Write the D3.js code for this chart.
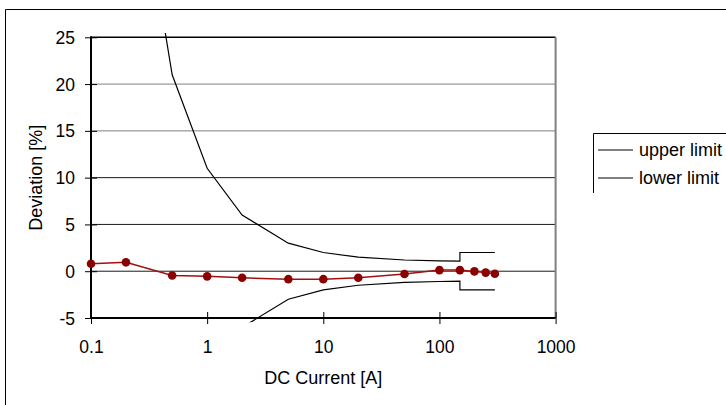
<!DOCTYPE html>
<html><head><meta charset="utf-8">
<script src="https://cdn.jsdelivr.net/npm/d3@7"></script>
<style>
html,body{margin:0;padding:0;background:#fff;}
svg{display:block;}
text{font-family:"Liberation Sans",Arial,sans-serif;fill:#000;}
</style></head>
<body>
<svg id="chart" width="726" height="405"></svg>
<script>
// ---- data ----
const currents = [0.1, 0.2, 0.5, 1, 2, 5, 10, 20, 50, 100, 150, 200, 250, 300];
const measured = [0.8, 0.95, -0.45, -0.55, -0.7, -0.85, -0.85, -0.7, -0.3, 0.12, 0.12, -0.02, -0.15, -0.27];
const limitCurrents = [0.1, 0.2, 0.5, 1, 2, 5, 10, 20, 50, 100, 150, 150, 300];
const upperLimit = [101, 51, 21, 11, 6, 3, 2, 1.5, 1.2, 1.1, 1.07, 2, 2];
const lowerLimit = [-101, -51, -21, -11, -6, -3, -2, -1.5, -1.2, -1.1, -1.07, -2, -2];
const xTicks = [0.1, 1, 10, 100, 1000];
const xTickLabels = ["0.1", "1", "10", "100", "1000"];
const yTicks = [-5, 0, 5, 10, 15, 20, 25];
const yTickLabels = ["-5", "0", "5", "10", "15", "20", "25"];
const legendLabels = ["upper limit", "lower limit"];
const xTitle = "DC Current [A]";
const yTitle = "Deviation [%]";

// ---- layout ----
const svg = d3.select("#chart");
const L = 91, R = 555.6, T = 37.3, B = 318;
const x = d3.scaleLog().domain([0.1, 1000]).range([L, R]);
const y = d3.scaleLinear().domain([-5, 25]).range([B, T]);
const red = "#8b0000";

// outer frame
svg.append("path").attr("d", "M5.5,410V9.5H730").attr("fill", "none").attr("stroke", "#000").attr("stroke-width", 1);

// gridlines
const gridVals = yTicks.filter(v => v > -5 && v < 25);
svg.append("g").selectAll("line").data(gridVals).join("line")
  .attr("x1", L).attr("x2", R)
  .attr("y1", d => y(d)).attr("y2", d => y(d))
  .attr("stroke", d => d >= 15 ? "#808080" : "#1a1a1a").attr("stroke-width", 1);

// plot border top (black) and right (gray)
svg.append("line").attr("x1", L).attr("x2", R).attr("y1", T).attr("y2", T).attr("stroke", "#000").attr("stroke-width", 1.5);
svg.append("line").attr("x1", R).attr("x2", R).attr("y1", T).attr("y2", B).attr("stroke", "#808080").attr("stroke-width", 2);

// clip for limit lines (slightly beyond plot area)
svg.append("defs").append("clipPath").attr("id", "clip")
  .append("rect").attr("x", L).attr("y", T - 4.3).attr("width", R - L).attr("height", B - T + 8.6);

const lim = d3.line().x((d, i) => x(limitCurrents[i])).y(d => y(d));
const gl = svg.append("g").attr("clip-path", "url(#clip)");
[upperLimit, lowerLimit].forEach(arr => {
  gl.append("path").attr("d", lim(arr)).attr("fill", "none").attr("stroke", "#000").attr("stroke-width", 1.2);
});

// axes
const xAxis = svg.append("g").attr("transform", `translate(0,${B})`)
  .call(d3.axisBottom(x).tickValues(xTicks).tickFormat((d, i) => xTickLabels[i]).tickSizeOuter(0));
xAxis.select(".domain").attr("stroke", "#000").attr("stroke-width", 2).attr("d", `M${L},0H${R}`);
xAxis.selectAll(".tick line").attr("y1", -6).attr("y2", 6).attr("stroke", "#000");
xAxis.selectAll(".tick text").attr("y", 35).attr("dy", 0).style("font-size", "17.5px").style("font-family", "Liberation Sans, Arial, sans-serif");

const yAxis = svg.append("g").attr("transform", `translate(${L},0)`)
  .call(d3.axisLeft(y).tickValues(yTicks).tickFormat((d, i) => yTickLabels[i]).tickSizeOuter(0));
yAxis.select(".domain").attr("stroke", "#000").attr("stroke-width", 2).attr("d", `M0,${T - 1}V${B + 1}`);
yAxis.selectAll(".tick line").attr("x1", -6).attr("x2", 6).attr("stroke", "#000");
yAxis.selectAll(".tick text").attr("x", -16).attr("dy", "0.35em").style("font-size", "17.5px").style("font-family", "Liberation Sans, Arial, sans-serif");

// measured series
const ml = d3.line().x((d, i) => x(currents[i])).y(d => y(d));
svg.append("path").attr("d", ml(measured)).attr("fill", "none").attr("stroke", "#a01010").attr("stroke-width", 1.5);
svg.append("g").selectAll("circle").data(measured).join("circle")
  .attr("cx", (d, i) => x(currents[i])).attr("cy", d => y(d)).attr("r", 4.3).attr("fill", red);

// axis titles
svg.append("text").attr("x", (L + R) / 2).attr("y", 384).attr("text-anchor", "middle").style("font-size", "18px").text(xTitle);
svg.append("text").attr("transform", `translate(41.5,${(T + B) / 2}) rotate(-90)`).attr("text-anchor", "middle").style("font-size", "18px").text(yTitle);

// legend
svg.append("path").attr("d", "M593.5,193V133.5H730").attr("fill", "none").attr("stroke", "#000").attr("stroke-width", 1);
const lg = svg.append("g").selectAll("g").data(legendLabels).join("g")
  .attr("transform", (d, i) => `translate(598,${150 + i * 28})`);
lg.append("line").attr("x1", 0).attr("x2", 35).attr("y1", 0).attr("y2", 0).attr("stroke", "#000").attr("stroke-width", 1.2);
lg.append("text").attr("x", 41).attr("y", 0).attr("dy", "0.35em").style("font-size", "18px").text(d => d);
</script>
</body></html>
